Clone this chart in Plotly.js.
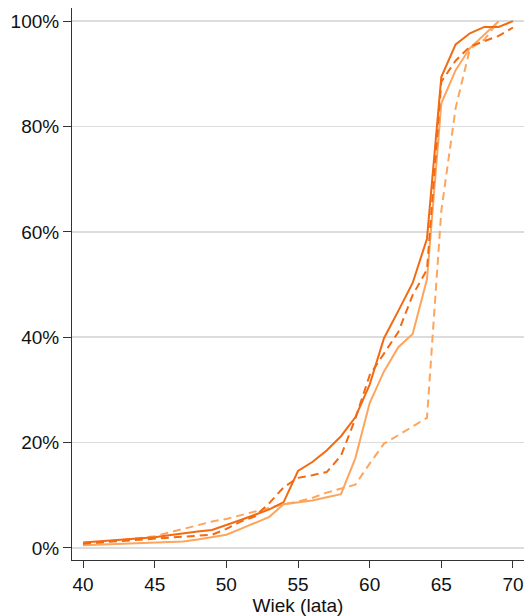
<!DOCTYPE html>
<html>
<head>
<meta charset="utf-8">
<script src="https://cdn.plot.ly/plotly-3.0.1.min.js"></script>
<style>html,body{margin:0;padding:0;background:#fff;}#chart{width:531px;height:616px;}</style>
</head>
<body>
<div id="chart"></div>
<script>
const ages = [40,41,42,43,44,45,46,47,48,49,50,51,52,53,54,55,56,57,58,59,60,61,62,63,64,65,66,67,68,69,70];
const darkSolid = [1.0,1.2,1.4,1.6,1.8,2.0,2.4,2.8,3.1,3.4,4.3,5.3,6.3,7.3,8.7,14.6,16.3,18.5,21.2,24.8,31.0,39.8,45.0,50.3,58.7,89.4,95.6,97.7,98.9,98.9,100];
const darkDashed = [0.8,1.0,1.2,1.4,1.6,1.8,2.0,2.2,2.3,2.5,3.6,5.0,6.0,8.5,11.5,13.3,13.8,14.4,17.5,24.5,32.8,37.0,41.0,48.0,52.8,88.5,92.5,95.2,96.2,97.2,98.8];
const lightSolid = [0.5,0.6,0.7,0.8,0.9,1.0,1.1,1.2,1.6,2.0,2.5,3.6,4.7,5.9,8.3,8.6,9.0,9.6,10.2,17.0,27.5,33.5,38.1,40.6,51.0,84.4,90.7,94.9,97.5,100];
const lightDashed = [0.7,1.0,1.3,1.6,1.9,2.2,2.9,3.6,4.3,5.0,5.5,6.2,6.9,7.6,8.3,8.8,9.5,10.5,11.2,12.0,16.0,19.8,21.4,23.0,24.7,64.0,83.5,94.8,96.5,100];
const yTicks = [0,20,40,60,80,100];
const xTicks = [40,45,50,55,60,65,70];

const dark = '#f26a12';
const light = '#fda55c';

const traces = [
  {x: ages.slice(0, lightDashed.length), y: lightDashed, mode: 'lines', line: {color: light, width: 2, dash: '8px,5px'}},
  {x: ages.slice(0, lightSolid.length), y: lightSolid, mode: 'lines', line: {color: light, width: 2}},
  {x: ages, y: darkDashed, mode: 'lines', line: {color: dark, width: 2, dash: '8px,5px'}},
  {x: ages, y: darkSolid, mode: 'lines', line: {color: dark, width: 2}}
];

const font = {family: 'Liberation Sans, Arial, sans-serif', size: 19, color: '#111'};

const layout = {
  width: 531, height: 616,
  margin: {l: 72, r: 7, t: 8, b: 56, pad: 0},
  paper_bgcolor: '#fff', plot_bgcolor: '#fff',
  showlegend: false,
  font: font,
  xaxis: {
    range: [39.23, 70.77], tickvals: xTicks, ticktext: xTicks.map(String),
    showgrid: false, zeroline: false, showline: true, linecolor: '#333', linewidth: 1,
    ticks: 'outside', ticklen: 7, tickcolor: '#333', tickwidth: 1,
    tickfont: font,
    title: {text: 'Wiek (lata)', font: font, standoff: 2}
  },
  yaxis: {
    range: [-2.3, 102.5], tickvals: yTicks, ticktext: yTicks.map(v => v + '%'),
    showgrid: true, gridcolor: '#dcdcdc', gridwidth: 1.5, zeroline: false,
    showline: true, linecolor: '#333', linewidth: 1,
    ticks: 'outside', ticklen: 8, tickcolor: '#333', tickwidth: 1,
    tickfont: font
  }
};

Plotly.newPlot('chart', traces, layout, {displayModeBar: false, staticPlot: true});
</script>
</body>
</html>
